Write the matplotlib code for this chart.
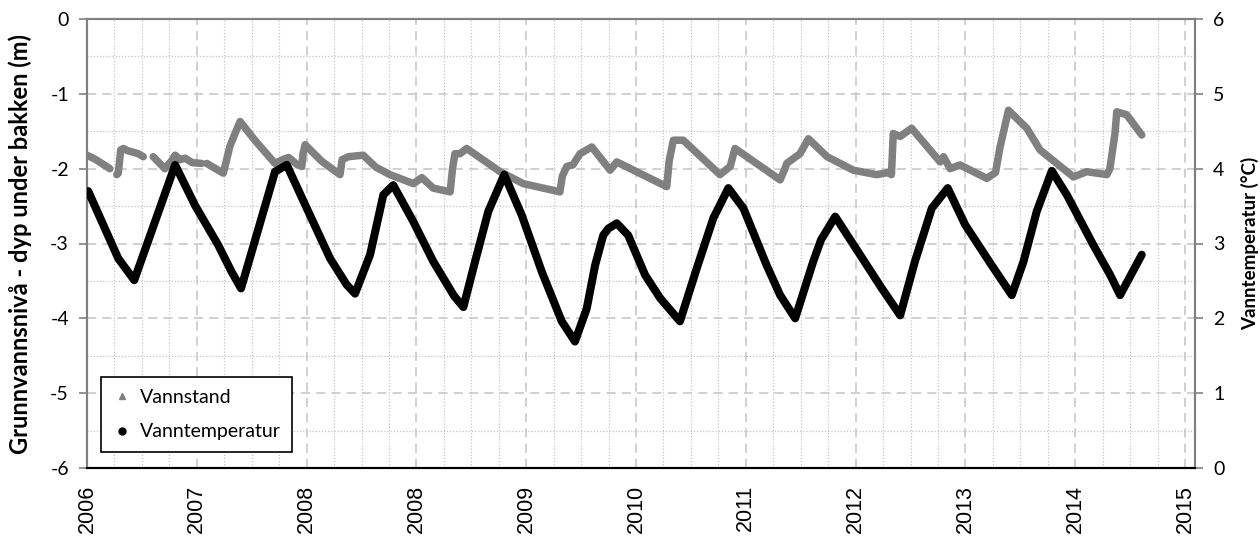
import datetime as dt

import matplotlib
matplotlib.use("Agg")
import matplotlib.pyplot as plt
from matplotlib.lines import Line2D
from matplotlib.ticker import FuncFormatter, MultipleLocator
import numpy as np

START = dt.date(2006, 1, 1)

# Vannstand (m, negative = under ground), x = days since 2006-01-01; NaN = gap
level_day = [0, 30, 76, np.nan,
             99, 104, 112, 121, 135, 145, 170, 187, np.nan,
             220, 259, 280, 293, 310, 326, 350, 381, np.nan,
             398, 453, 460, 475, 490, 509, 560, 625, 650, 670, 700, 714, 718, 725,
             780, 841, 848, 869, 918, 960, 1007, 1085, 1113, 1151, 1207, 1215, 1223,
             1240, 1262, 1373, 1450, 1572, 1580, 1595, 1615, 1639, 1678, 1739, 1761,
             1927, 1935, 1949, 1982, 2104, 2138, 2154, 2304, 2320, 2326, 2370, 2398,
             2460, 2547, 2625, 2664, 2674, 2680, 2703, 2741, 2836, 2847, 2869, 2902,
             2991, 3020, 3035, 3063, 3124, 3168, 3279, 3323, 3390, 3400, 3417, 3423,
             3456, 3506]
level_m = [-1.82, -1.88, -2.00, np.nan,
           -2.08, -2.06, -1.75, -1.73, -1.76, -1.77, -1.80, -1.84, np.nan,
           -1.84, -2.00, -1.90, -1.82, -1.88, -1.86, -1.92, -1.93, np.nan,
           -1.93, -2.06, -1.95, -1.70, -1.55, -1.37, -1.63, -1.93, -1.88, -1.85,
           -1.95, -1.97, -1.80, -1.68,
           -1.90, -2.08, -1.88, -1.84, -1.82, -1.98, -2.08, -2.20, -2.12, -2.26,
           -2.31, -2.00, -1.80,
           -1.80, -1.73, -2.04, -2.20, -2.31, -2.10, -1.97, -1.95, -1.80, -1.71,
           -2.02, -1.91,
           -2.24, -1.90, -1.62, -1.62, -2.08, -1.97, -1.73, -2.15, -2.00, -1.93,
           -1.80, -1.60,
           -1.84, -2.02, -2.08, -2.05, -2.08, -1.53, -1.57, -1.46, -1.91, -1.84,
           -2.00, -1.95,
           -2.13, -2.05, -1.71, -1.22, -1.46, -1.75, -2.11, -2.04, -2.08, -2.00,
           -1.53, -1.24,
           -1.28, -1.55]

# Vanntemperatur (degC)
temp_day = [4, 54, 104, 157, 293, 359, 436, 481, 512, 625, 664, 741, 808, 863,
            891, 941, 985, 1018, 1085, 1151, 1220, 1251, 1290, 1334, 1387, 1445,
            1512, 1578, 1622, 1661, 1689, 1716, 1733, 1761, 1799, 1855, 1905,
            1971, 2027, 2082, 2132, 2182, 2259, 2304, 2354, 2414, 2440, 2487,
            2542, 2642, 2703, 2752, 2808, 2861, 2919, 3007, 3074, 3113, 3157,
            3207, 3257, 3345, 3401, 3434, 3506]
temp_c = [3.70, 3.25, 2.80, 2.51, 4.05, 3.51, 2.98, 2.62, 2.40, 3.96, 4.05, 3.38,
          2.80, 2.45, 2.33, 2.85, 3.65, 3.78, 3.29, 2.76, 2.30, 2.15, 2.76, 3.43,
          3.92, 3.38, 2.62, 1.96, 1.69, 2.13, 2.71, 3.11, 3.20, 3.27, 3.11, 2.58,
          2.27, 1.96, 2.67, 3.34, 3.74, 3.47, 2.71, 2.31, 2.00, 2.76, 3.05, 3.36,
          3.02, 2.40, 2.04, 2.76, 3.47, 3.74, 3.25, 2.71, 2.31, 2.76, 3.43, 3.97,
          3.65, 2.98, 2.58, 2.31, 2.85]

TICK_STEP = 365
X_MAX = 3683
GRAY = "#808080"

plt.rcParams["font.family"] = ["Lato", "DejaVu Sans"]
plt.rcParams["axes.unicode_minus"] = False
fig = plt.figure(figsize=(12.6, 5.39), dpi=100)
ax = fig.add_axes([87 / 1260, 1 - 468 / 539, 1108 / 1260, 449 / 539])
ax2 = ax.twinx()

ax.plot(level_day, level_m, color=GRAY, lw=5.4, solid_capstyle="round",
        solid_joinstyle="round", zorder=3)
ax2.plot(temp_day, temp_c, color="black", lw=5.8, solid_capstyle="round",
         solid_joinstyle="round", zorder=3)

ax.set_xlim(0, X_MAX)
ax.set_ylim(-6, 0)
ax2.set_ylim(0, 6)

ax.xaxis.set_major_locator(MultipleLocator(TICK_STEP))
ax.xaxis.set_minor_locator(MultipleLocator(TICK_STEP / 4))
ax.xaxis.set_major_formatter(FuncFormatter(
    lambda v, p: str((START + dt.timedelta(days=int(round(v)))).year)))
ax.yaxis.set_major_locator(MultipleLocator(1))
ax.yaxis.set_minor_locator(MultipleLocator(0.5))
ax2.yaxis.set_major_locator(MultipleLocator(1))

ax.grid(which="major", color="#c4c4c4", ls=(0, (6, 4)), lw=1.1)
ax.grid(which="minor", color="#c4c4c4", ls=(0, (1, 1.5)), lw=0.9)
ax.set_axisbelow(True)

ax.tick_params(axis="x", which="both", length=0, pad=12, labelsize=15.5,
               labelrotation=90)
ax.tick_params(axis="y", which="major", length=6, width=1.2, color=GRAY,
               pad=7, labelsize=14)
ax.tick_params(axis="y", which="minor", length=0)
ax2.tick_params(axis="y", length=6, width=1.2, color=GRAY, pad=7, labelsize=14)
for t in ax.get_xticklabels():
    t.set_fontfamily("Liberation Sans")

for a in (ax, ax2):
    for s in ("left", "right", "top"):
        a.spines[s].set_color(GRAY)
        a.spines[s].set_linewidth(1.5)
    a.spines["bottom"].set_color("black")
    a.spines["bottom"].set_linewidth(1.5)

ax.set_ylabel("Grunnvannsnivå - dyp under bakken (m)", fontsize=17,
              fontweight="bold")
ax.yaxis.set_label_coords(-0.050, 0.5)
ax2.set_ylabel("Vanntemperatur (°C)", fontsize=13.5, fontweight="bold")
ax2.yaxis.set_label_coords(1.0415, 0.5)

handles = [Line2D([], [], ls="none", marker="^", ms=5, color=GRAY),
           Line2D([], [], ls="none", marker="o", ms=5, color="black")]
leg = ax2.legend(handles, ["Vannstand", "Vanntemperatur"], loc="lower left",
                 bbox_to_anchor=(14 / 1108, 16 / 449), fontsize=14,
                 fancybox=False, framealpha=1, edgecolor="black",
                 handlelength=1.0, handletextpad=0.4, labelspacing=0.9,
                 borderpad=0.6, borderaxespad=0)
leg.get_frame().set_linewidth(1.2)
leg.set_zorder(10)

fig.savefig("out.png", dpi=100)
